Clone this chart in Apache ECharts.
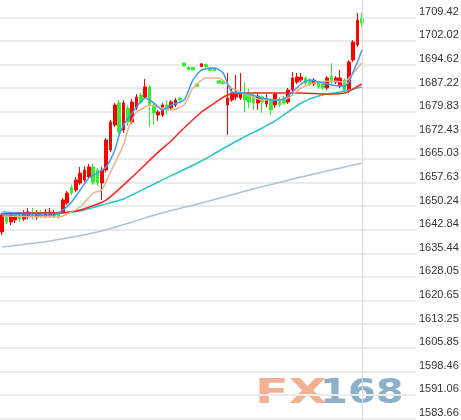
<!DOCTYPE html>
<html><head><meta charset="utf-8">
<script src="https://cdn.jsdelivr.net/npm/echarts@6/dist/echarts.min.js"></script>
<style>html,body{margin:0;padding:0;background:#fff}#c{width:461px;height:420px}</style>
</head><body><div id="c"></div>
<script>
// y tick labels (bottom to top)
const tickLabels = ['1583.66','1591.06','1598.46','1605.85','1613.25','1620.65','1628.05','1635.44','1642.84','1650.24','1657.63','1665.03','1672.43','1679.83','1687.22','1694.62','1702.02','1709.42'];
const slotCount = 96;
// candles: [open, close, low, high]
const candles = [
[1642.14,1647.47,1641.20,1648.09],[1646.84,1645.27,1644.60,1647.50],[1645.27,1647.47,1644.30,1648.40],[1645.90,1647.15,1644.96,1648.09],
[1647.47,1646.21,1645.30,1648.40],[1646.21,1647.78,1645.60,1649.00],[1646.84,1648.41,1646.00,1649.66],[1648.09,1646.84,1646.00,1649.66],
[1646.84,1648.09,1645.90,1649.04],[1648.09,1647.15,1646.50,1649.00],[1647.15,1648.41,1646.50,1649.35],[1647.47,1648.41,1646.84,1649.66],
[1647.47,1648.09,1646.80,1649.04],[1648.09,1647.15,1646.20,1648.72],[1648.40,1652.17,1647.80,1652.80],[1651.23,1654.37,1650.60,1655.00],
[1655.94,1654.37,1653.70,1657.00],[1655.31,1658.45,1654.70,1659.40],[1657.51,1660.64,1656.90,1662.52],[1658.45,1661.58,1657.80,1662.80],
[1659.39,1662.52,1658.80,1663.50],[1662.52,1657.51,1656.90,1663.50],[1661.58,1657.51,1656.60,1662.20],[1657.51,1661.58,1652.17,1662.50],
[1661.58,1670.99,1660.90,1671.60],[1667.85,1676.63,1667.20,1677.30],[1675.69,1681.97,1675.00,1682.60],[1682.59,1673.50,1672.90,1683.50],
[1674.12,1682.59,1673.20,1683.50],[1681.02,1676.63,1675.40,1682.00],[1676.63,1682.90,1676.00,1683.80],[1681.02,1684.47,1680.40,1685.40],
[1685.10,1682.90,1682.30,1685.70],[1684.47,1687.61,1683.80,1690.12],[1687.61,1681.97,1675.10,1688.20],[1681.97,1679.45,1675.70,1682.60],
[1678.83,1679.77,1677.00,1680.40],[1678.83,1681.97,1678.20,1682.60],[1681.97,1680.40,1679.00,1683.50],[1681.02,1682.90,1680.40,1683.50],
[1681.97,1683.53,1681.30,1684.20],[1684.16,1683.53,1683.20,1684.50],[1695.13,1694.19,1694.00,1695.30],[1693.88,1693.00,1692.90,1694.00],
[1693.80,1692.95,1692.90,1693.90],[1688.60,1687.80,1687.70,1688.70],[1694.00,1694.90,1693.90,1695.00],[1694.70,1693.90,1693.80,1694.80],
[1693.57,1692.80,1692.70,1693.70],[1693.40,1692.70,1692.60,1693.50],[1689.60,1688.80,1688.70,1689.70],[1689.40,1688.60,1688.50,1689.50],
[1681.97,1684.16,1672.60,1692.00],[1683.53,1685.73,1683.00,1687.50],[1684.47,1686.04,1683.50,1691.37],[1684.16,1685.73,1683.50,1692.00],
[1685.73,1683.53,1679.77,1689.18],[1685.10,1682.90,1681.00,1687.00],[1684.47,1682.59,1680.40,1685.40],[1682.59,1684.79,1680.40,1685.40],
[1684.47,1682.90,1679.45,1685.00],[1682.28,1683.85,1681.30,1685.40],[1683.53,1680.40,1678.83,1684.20],[1681.97,1685.41,1681.00,1686.00],
[1683.53,1681.97,1681.30,1684.50],[1684.16,1682.59,1682.00,1684.80],[1682.90,1686.67,1682.30,1687.30],[1686.67,1690.43,1686.00,1692.31],
[1689.18,1690.74,1688.50,1692.00],[1689.80,1690.74,1689.20,1692.00],[1690.43,1688.86,1688.20,1691.00],[1689.80,1688.55,1688.00,1690.40],
[1688.55,1689.80,1687.90,1690.40],[1688.86,1687.61,1687.00,1689.50],[1688.55,1687.29,1686.70,1689.20],[1687.29,1690.43,1686.70,1691.00],
[1691.06,1689.18,1688.50,1695.13],[1689.18,1690.43,1688.50,1691.00],[1687.92,1690.43,1687.30,1692.94],[1689.80,1686.67,1685.73,1690.40],
[1686.67,1695.45,1685.70,1696.10],[1696.08,1701.72,1695.40,1702.30],[1700.78,1708.62,1700.20,1710.81],[1708.93,1707.68,1706.42,1710.81]
];
// moving average lines: [candle index, value]
const maFast = [[0,1647.47],[6,1647.47],[12,1647.47],[14,1649.04],[16,1651.5],[18,1655.31],[20,1659.07],[22,1660.64],[24,1662.52],[26,1667.85],[27,1672.56],[28,1675.69],[30,1679.45],[33,1684.16],[35,1682.59],[37,1680.40],[39,1681.97],[42,1683.53],[44,1689.80],[46,1692.94],[49,1693.57],[51,1692.0],[53,1686.04],[56,1685.73],[60,1684.16],[63,1683.53],[65,1683.85],[67,1686.04],[69,1688.55],[71,1689.80],[73,1689.18],[76,1688.23],[78,1687.92],[79,1687.92],[80,1689.18],[81,1692.31],[82,1695.45],[83,1699.21]];
const maSlow = [[0,1647.15],[12,1646.84],[13,1646.84],[18,1649.98],[21,1654.37],[23,1655.31],[25,1660.95],[28,1669.42],[29,1674.12],[30,1677.26],[31,1679.77],[33,1681.34],[34,1681.97],[39,1680.40],[42,1681.97],[44,1687.29],[47,1690.43],[50,1690.43],[53,1687.29],[55,1686.04],[60,1683.53],[64,1683.53],[66,1684.16],[69,1687.29],[72,1688.86],[76,1689.49],[79,1689.18],[81,1692.0],[83,1695.13]];
const maRed = [[0,1647.78],[6,1648.09],[13,1648.09],[18,1649.04],[24,1652.17],[30,1659.39],[36,1667.2],[39,1670.68],[41,1673.50],[46,1679.77],[49,1682.59],[52,1685.10],[56,1685.73],[62,1685.73],[69,1685.73],[75,1685.41],[79,1685.73],[81,1686.98],[83,1688.55]];
const maTeal = [[0,1648.41],[6,1648.09],[13,1648.09],[18,1648.72],[23,1650.60],[28,1652.48],[36,1657.82],[46,1664.40],[50,1667.54],[55,1671.3],[60,1674.75],[63,1676.95],[69,1682.59],[73,1684.79],[78,1686.04],[83,1687.61]];
const maLong = [[0,1637.44],[11,1639.32],[23,1642.45],[30,1645.27],[36,1647.78],[46,1651.23],[57,1655.31],[69,1659.39],[76,1661.58],[83,1663.78]];

const categories = Array.from({length: slotCount}, (_, i) => String(i));
const step = 1583.66 / 214;
const chart = echarts.init(document.getElementById('c'), null, {renderer: 'canvas'});
function line(data, color, w) {
  return {type: 'line', data, symbol: 'none', silent: true, z: 5, smooth: 0.2, lineStyle: {color, width: w}, itemStyle: {color}};
}
chart.setOption({
  animation: false,
  backgroundColor: '#fff',
  grid: {left: 0, right: 45, top: -6.3, bottom: -22.1, outerBoundsMode: 'none', containLabel: false},
  xAxis: {type: 'category', data: categories, show: false, boundaryGap: true},
  yAxis: {
    type: 'value', position: 'right', min: 213 * step, max: 232 * step, interval: step,
    axisLine: {show: false}, axisTick: {show: false},
    splitLine: {show: true, lineStyle: {color: '#ebebeb', width: 2}},
    axisLabel: {
      color: '#333', fontFamily: 'Liberation Sans', fontSize: 11, margin: 3, verticalAlign: 'bottom',
      formatter: v => { const k = Math.round((v - 1583.66) / step); return tickLabels[k] || ''; }
    }
  },
  graphic: [
    {type: 'text', x: 255, y: 394, scaleX: 1.45, z: -10, silent: true,
     style: {text: 'FX', font: 'bold 34px "DejaVu Sans"', fill: '#f4b095', align: 'left', verticalAlign: 'middle'}},
    {type: 'text', x: 320, y: 394, scaleX: 1.18, z: -10, silent: true,
     style: {text: '168', font: 'bold 34px "DejaVu Sans"', fill: '#8cb0c8', align: 'left', verticalAlign: 'middle'}}
  ],
  series: [
    {type: 'candlestick', data: candles, barWidth: 3.4, z: 3,
     itemStyle: {color: '#ff0000', color0: '#33ee33', borderColor: '#ff0000', borderColor0: '#33ee33', borderWidth: 1},
     markLine: {silent: true, symbol: 'none', label: {show: false}, lineStyle: {color: '#dddddd', width: 1, type: 'solid'},
       data: [{xAxis: String(candles.length - 1)}]}},
    line(maLong, '#a5c4dc', 1.5),
    line(maTeal, '#22c8cc', 1.5),
    line(maRed, '#ff2222', 1.5),
    line(maSlow, '#eeb088', 1.5),
    line(maFast, '#3f9cf0', 1.5)
  ]
});
</script>
</body></html>
